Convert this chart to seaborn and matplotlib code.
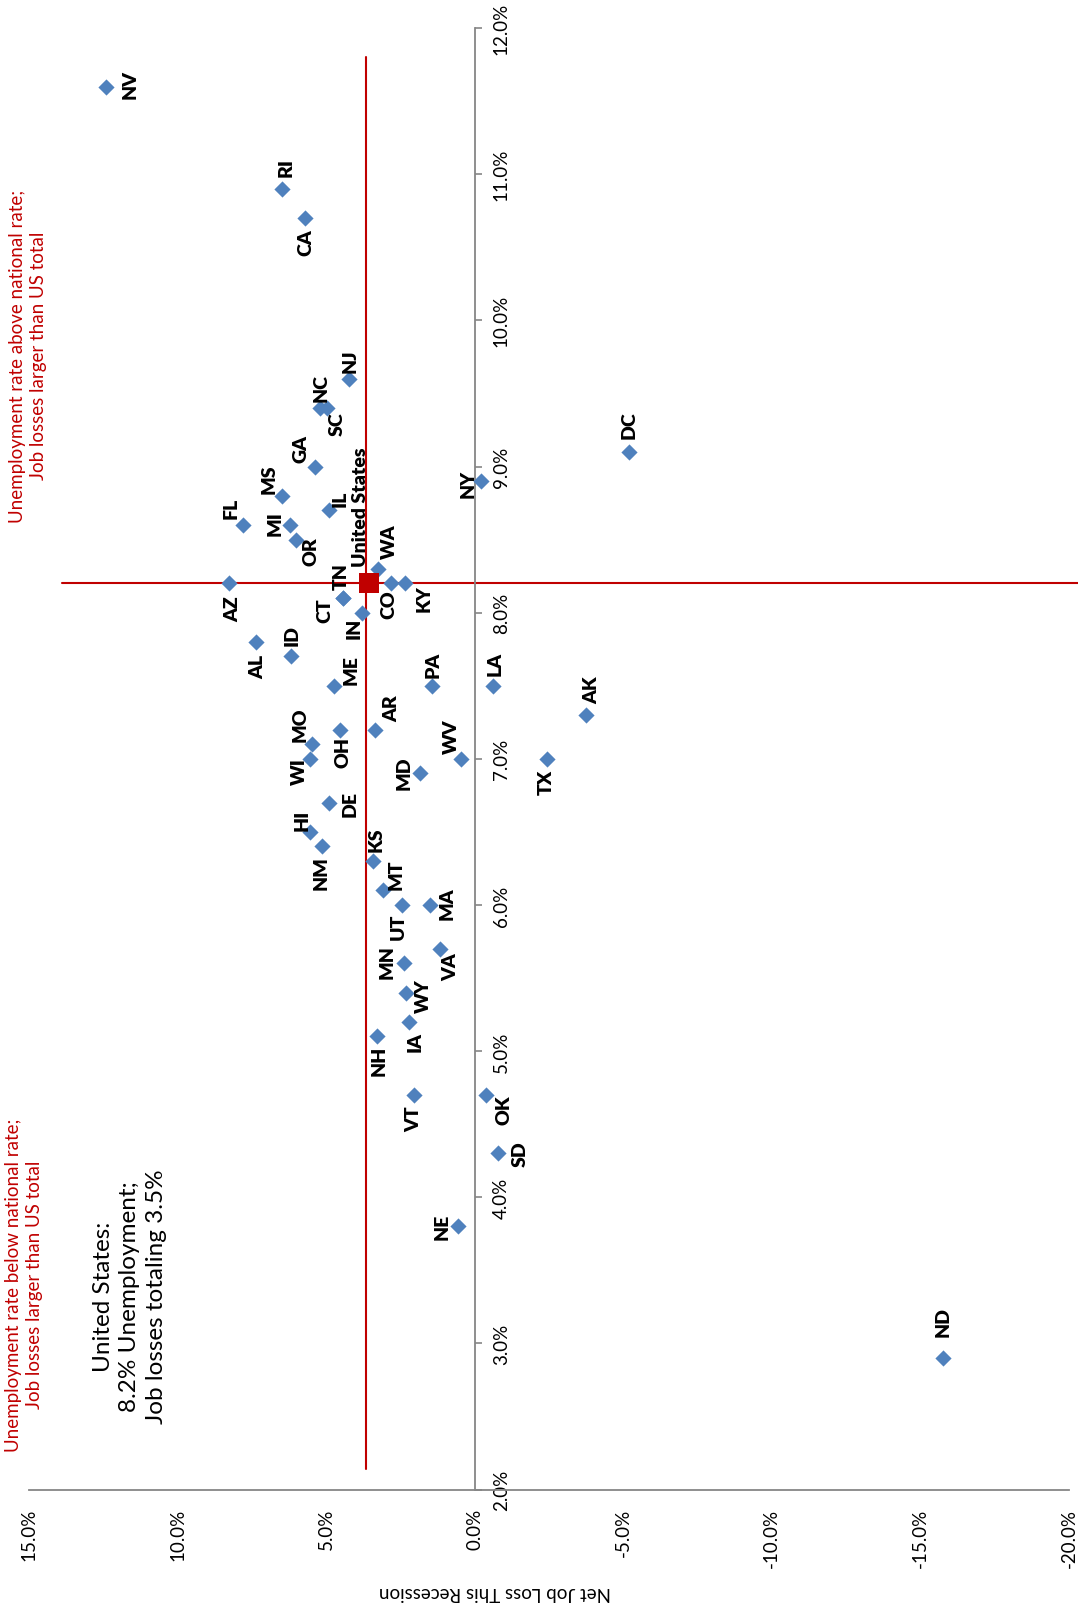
import numpy as np
import pandas as pd
import matplotlib
matplotlib.use("Agg")
import matplotlib.pyplot as plt
import seaborn as sns

# state data: net job loss this recession (%) and unemployment rate (%)
states = ["NV", "RI", "CA", "NJ", "NC", "SC", "GA", "MS", "IL", "FL", "MI", "OR", "NY",
          "WA", "AZ", "CO", "KY", "TN", "CT", "IN", "AL", "ID", "ME", "PA", "LA", "AR",
          "OH", "MO", "WI", "WV", "MD", "DE", "HI", "NM", "KS", "MT", "UT", "MA", "VA",
          "MN", "WY", "IA", "NH", "VT", "OK", "SD", "NE", "ND", "DC", "AK", "TX"]
job_loss = [12.42, 6.49, 5.72, 4.22, 5.19, 4.96, 5.38, 6.49, 4.92, 7.81, 6.20, 6.03, -0.20,
            3.27, 8.26, 2.83, 2.36, 4.44, 4.43, 3.79, 7.36, 6.19, 4.74, 1.45, -0.60, 3.35,
            4.54, 5.47, 5.55, 0.45, 1.83, 4.91, 5.54, 5.13, 3.41, 3.07, 2.46, 1.49, 1.18,
            2.38, 2.32, 2.22, 3.29, 2.05, -0.38, -0.78, 0.56, -15.75, -5.20, -3.75, -2.42]
unemployment = [11.6, 10.9, 10.7, 9.6, 9.4, 9.4, 9.0, 8.8, 8.7, 8.6, 8.6, 8.5, 8.9,
                8.3, 8.2, 8.2, 8.2, 8.1, 8.1, 8.0, 7.8, 7.7, 7.5, 7.5, 7.5, 7.2,
                7.2, 7.1, 7.0, 7.0, 6.9, 6.7, 6.5, 6.4, 6.3, 6.1, 6.0, 6.0, 5.7,
                5.6, 5.4, 5.2, 5.1, 4.7, 4.7, 4.3, 3.8, 2.9, 9.1, 7.3, 7.0]

# US total
us_job_loss = 3.55
us_unemployment = 8.2
hline_x = [13.9, -20.4]
vline_x = 3.67
vline_y = [2.14, 11.8]

x_ticks = [15, 10, 5, 0, -5, -10, -15, -20]
y_ticks = [2, 3, 4, 5, 6, 7, 8, 9, 10, 11, 12]

# label placement (pixels: right, down) from each marker
label_offsets = {
    "NV": (24, -3), "RI": (4, -22), "CA": (1, 24), "NJ": (1, -19), "NC": (1, -21),
    "SC": (10, 15), "GA": (-14, -19), "MS": (-13, -18), "IL": (12, -13), "FL": (-12, -18),
    "MI": (-15, -2), "OR": (15, 11), "NY": (-13, 2), "WA": (12, -28), "AZ": (3, 25),
    "CO": (-2, 20), "KY": (20, 14), "TN": (-2, -22), "CT": (-18, 12), "IN": (-8, 15),
    "AL": (2, 24), "ID": (1, -22), "ME": (17, -17), "PA": (2, -22), "LA": (3, -23),
    "AR": (17, -22), "OH": (3, 22), "MO": (-12, -20), "WI": (-10, 12), "WV": (-10, -23),
    "MD": (-16, -1), "DE": (21, 0), "HI": (-8, -12), "NM": (-1, 26), "KS": (3, -22),
    "MT": (13, -17), "UT": (-3, 21), "MA": (17, -2), "VA": (11, 17), "MN": (-17, -2),
    "WY": (18, 2), "IA": (6, 19), "NH": (2, 23), "VT": (0, 23), "OK": (18, 14),
    "SD": (22, 0), "NE": (-16, -1), "ND": (0, -37), "DC": (0, -28), "AK": (6, -26),
    "TX": (0, 23),
}

df = pd.DataFrame({"state": states, "job_loss": job_loss, "unemployment": unemployment})

sns.set_style("white")
plt.rcParams['font.family'] = ['Lato', 'DejaVu Sans']

blue = "#4F81BD"
red = "#C00000"
gray = "#868686"

fig = plt.figure(figsize=(10.78, 16.06), dpi=100)
ax = fig.add_axes([0.0269, 0.0719, 0.9647, 0.9100])

sns.scatterplot(data=df, x="job_loss", y="unemployment", marker="D", s=68,
                color=blue, linewidth=0, ax=ax, zorder=3)

# red guide lines through the US point
ax.plot(hline_x, [us_unemployment, us_unemployment], color=red, lw=1.5, clip_on=False, zorder=2)
ax.plot([vline_x, vline_x], vline_y, color=red, lw=1.5, zorder=2)
sns.scatterplot(x=[us_job_loss], y=[us_unemployment], marker="s", s=220,
                color=red, linewidth=0, ax=ax, zorder=4)

# state labels
for s, x, y in zip(states, job_loss, unemployment):
    dx, dy = label_offsets[s]
    ax.annotate(s, (x, y), xytext=(dx, -dy), textcoords="offset pixels",
                rotation=90, ha="center", va="center", fontsize=14,
                fontweight="heavy", color="black", zorder=5)
ax.annotate("United States", (us_job_loss, us_unemployment), xytext=(-9, 77),
            textcoords="offset pixels", rotation=90, ha="center", va="center",
            fontsize=14, fontweight="heavy", color="black", zorder=5)

# axes
ax.set_xlim(15, -20)
ax.set_ylim(2, 12)
ax.set_xticks(x_ticks)
ax.set_yticks(y_ticks)
ax.set_xticklabels([f"{t:.1f}%" for t in x_ticks])
ax.set_yticklabels([f"{t:.1f}%" for t in y_ticks])
ax.set_xlabel("")
ax.set_ylabel("")
ax.grid(False)

ax.spines["top"].set_visible(False)
ax.spines["left"].set_visible(False)
ax.spines["right"].set_position(("data", 0))
ax.yaxis.tick_right()
for side in ["bottom", "right"]:
    ax.spines[side].set_color(gray)
    ax.spines[side].set_linewidth(1.3)

ax.tick_params(axis="both", direction="out", length=5, width=1.2, color=gray,
               labelsize=13.5, labelcolor="black", labelrotation=90, pad=8)
for lab in ax.get_yticklabels():
    lab.set_va("center")

fig.text(495 / 1078, 1 - 1593 / 1606, "Net Job Loss This Recession", rotation=180,
         ha="center", va="center", fontsize=13.5, color="black")

fig.text(28 / 1078, 1 - 356 / 1606,
         "Unemployment rate above national rate;\nJob losses larger than US total",
         rotation=90, ha="center", va="center", multialignment="center",
         fontsize=13.5, color=red, linespacing=1.3)
fig.text(24 / 1078, 1 - 1285 / 1606,
         "Unemployment rate below national rate;\nJob losses larger than US total",
         rotation=90, ha="center", va="center", multialignment="center",
         fontsize=13.5, color=red, linespacing=1.3)
fig.text(130 / 1078, 1 - 1297 / 1606,
         "United States:\n8.2% Unemployment;\nJob losses totaling 3.5%",
         rotation=90, ha="center", va="center", multialignment="center",
         fontsize=17.5, color="black", linespacing=1.35)

fig.savefig("out.png", dpi=100)
